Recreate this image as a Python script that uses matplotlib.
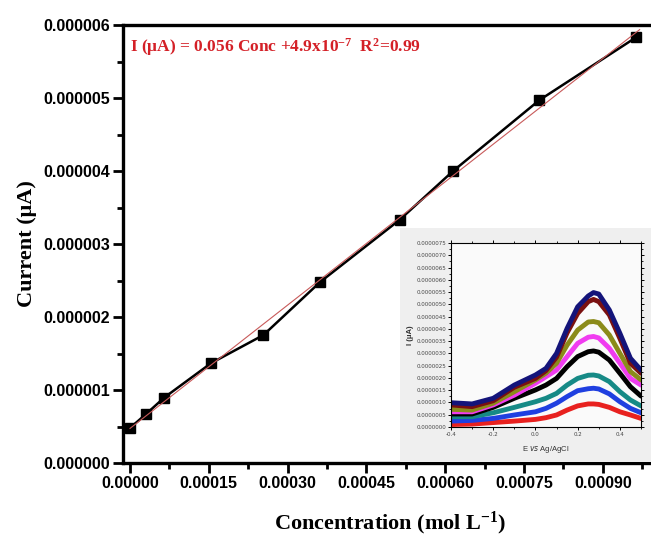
import numpy as np
import matplotlib
matplotlib.use('Agg')
import matplotlib.pyplot as plt
from matplotlib.ticker import MultipleLocator, FormatStrFormatter

plt.rcParams['mathtext.fontset'] = 'custom'
plt.rcParams['mathtext.rm'] = 'Liberation Serif:bold'
plt.rcParams['mathtext.default'] = 'rm'

# calibration data (main plot)
conc = [0.0, 0.00003, 0.000065, 0.000154, 0.000254, 0.000362, 0.000513, 0.000615, 0.000779, 0.000963]
current = [0.48e-6, 0.667e-6, 0.895e-6, 1.366e-6, 1.753e-6, 2.48e-6, 3.33e-6, 4.0e-6, 4.97e-6, 5.83e-6]

# DPV curves (inset), values in 1e-6
E = [-0.4, -0.3, -0.2, -0.1, 0.0, 0.05, 0.1, 0.15, 0.2, 0.25, 0.275, 0.3, 0.35, 0.4, 0.45, 0.5]
dpv_red = [0.10, 0.12, 0.18, 0.24, 0.31, 0.38, 0.49, 0.69, 0.86, 0.94, 0.94, 0.92, 0.80, 0.62, 0.49, 0.35]
dpv_blue = [0.24, 0.27, 0.35, 0.49, 0.62, 0.76, 0.97, 1.24, 1.48, 1.56, 1.58, 1.55, 1.35, 1.03, 0.76, 0.58]
dpv_teal = [0.42, 0.42, 0.58, 0.80, 1.03, 1.17, 1.37, 1.71, 1.98, 2.11, 2.12, 2.08, 1.85, 1.44, 1.10, 0.86]
dpv_black = [0.53, 0.53, 0.80, 1.17, 1.51, 1.71, 1.98, 2.46, 2.87, 3.07, 3.10, 3.05, 2.73, 2.19, 1.64, 1.26]
dpv_magenta = [0.62, 0.62, 0.90, 1.30, 1.78, 2.05, 2.32, 2.87, 3.41, 3.66, 3.69, 3.63, 3.21, 2.60, 1.98, 1.71]
dpv_olive = [0.72, 0.69, 0.97, 1.44, 1.92, 2.20, 2.60, 3.34, 3.95, 4.28, 4.30, 4.25, 3.75, 3.00, 2.26, 1.92]
dpv_maroon = [0.90, 0.83, 1.07, 1.62, 1.98, 2.30, 2.85, 3.84, 4.63, 5.11, 5.20, 5.11, 4.57, 3.61, 2.60, 2.19]
dpv_navy = [0.99, 0.94, 1.17, 1.71, 2.12, 2.39, 3.00, 4.02, 4.90, 5.34, 5.48, 5.42, 4.77, 3.82, 2.80, 2.32]

fig = plt.figure(figsize=(6.51, 5.41), dpi=100)
ax = fig.add_axes([123/651, 1-463/541, 534/651, 438/541])

# linear fit
slope, icpt = np.polyfit(conc, current, 1)
xf = np.array([0.0, 0.00097])
ax.plot(xf, slope*xf + icpt, color='#c85a5a', lw=0.8, zorder=3)
ax.plot(conc, current, color='black', lw=1.8, marker='s', ms=7.5, zorder=2)

ax.set_xlim(-1.33e-5, 0.001003)
ax.set_ylim(0, 6e-6)
ax.xaxis.set_major_locator(MultipleLocator(0.00015))
ax.xaxis.set_minor_locator(MultipleLocator(0.000075))
ax.yaxis.set_major_locator(MultipleLocator(1e-6))
ax.yaxis.set_minor_locator(MultipleLocator(0.5e-6))
ax.xaxis.set_major_formatter(FormatStrFormatter('%.5f'))
ax.yaxis.set_major_formatter(FormatStrFormatter('%.6f'))
ax.yaxis.get_offset_text().set_visible(False)
for s in ['left', 'bottom', 'top']:
    ax.spines[s].set_linewidth(2.4)
ax.spines['right'].set_visible(False)
ax.tick_params(which='major', direction='out', length=7, width=2, pad=2)
ax.tick_params(which='minor', direction='out', length=4, width=2)
for lab in ax.get_xticklabels() + ax.get_yticklabels():
    lab.set_fontfamily('Liberation Sans')
    lab.set_fontweight('bold')
    lab.set_fontsize(11.5)

ax.set_xlabel('Concentration (mol L$^{-1}$)', fontfamily='Liberation Serif',
              fontweight='bold', fontsize=16, labelpad=14)
ax.set_ylabel('Current (μA)', fontfamily='Liberation Serif',
              fontweight='bold', fontsize=16, labelpad=5)

ax.text(0.013, 0.95, 'I (μA) = 0.056 Conc +4.9x10$^{-7}$  R$^{2}$=0.99',
        transform=ax.transAxes, color='#d42027', fontfamily='Liberation Serif',
        fontweight='bold', fontsize=12.5, va='center', ha='left')

# inset background
bg = fig.add_axes([400/651, 1-462/541, 251/651, 234/541])
bg.set_facecolor('#efefef')
bg.set_xticks([])
bg.set_yticks([])
for s in bg.spines.values():
    s.set_visible(False)

ins = fig.add_axes([451/651, 1-427/541, 190/651, 184/541])
ins.set_facecolor('#fafafa')
curves = [(dpv_red, '#e8211f'), (dpv_blue, '#1f3fe0'), (dpv_teal, '#168a86'),
          (dpv_black, '#000000'), (dpv_magenta, '#f03cf0'), (dpv_olive, '#8b8b1a'),
          (dpv_maroon, '#7a1010'), (dpv_navy, '#14147a')]
for vals, c in curves:
    ins.plot(E, np.array(vals)*1e-6, color=c, lw=3.5, solid_capstyle='round',
             solid_joinstyle='round')
ins.set_xlim(-0.4, 0.5)
ins.set_ylim(0, 7.5e-6)
ins.xaxis.set_major_locator(MultipleLocator(0.2))
ins.xaxis.set_minor_locator(MultipleLocator(0.1))
ins.yaxis.set_major_locator(MultipleLocator(0.5e-6))
ins.yaxis.set_minor_locator(MultipleLocator(0.25e-6))
ins.xaxis.set_major_formatter(FormatStrFormatter('%.1f'))
ins.yaxis.set_major_formatter(FormatStrFormatter('%.7f'))
ins.yaxis.get_offset_text().set_visible(False)
ins.tick_params(which='major', direction='out', length=2.5, width=0.7, pad=1,
                labelsize=4, labelcolor='#444444')
ins.tick_params(which='minor', direction='out', length=1.5, width=0.6)
ins.tick_params(top=True, right=True, which='both')
for s in ins.spines.values():
    s.set_linewidth(0.8)
ins.set_xlabel('E $\\it{vs}$ Ag/AgCl', fontfamily='Liberation Sans', fontsize=5.5,
               color='#333333', labelpad=5)
ins.set_ylabel('I (μA)', fontfamily='Liberation Sans', fontweight='bold', fontsize=5.5,
               color='#333333', labelpad=2)

fig.savefig('out.png', dpi=100)
